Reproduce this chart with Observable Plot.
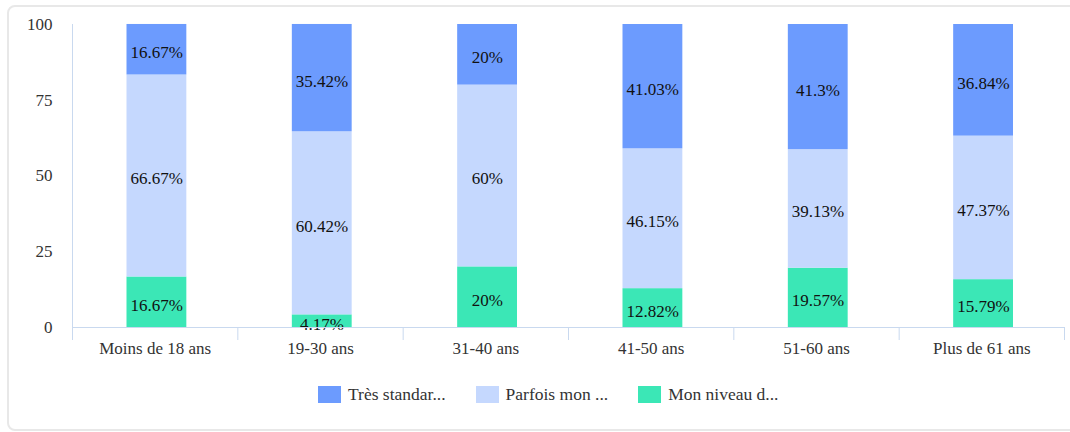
<!DOCTYPE html>
<html>
<head>
<meta charset="utf-8">
<script src="https://cdn.jsdelivr.net/npm/d3@7"></script>
<script src="https://cdn.jsdelivr.net/npm/@observablehq/plot@0.6"></script>
<style>
  html, body { margin: 0; padding: 0; background: #fff; width: 1070px; height: 432px; overflow: hidden; }
  #card { position: absolute; left: 7px; top: 5px; width: 1100px; height: 426px; border: 2px solid #e8e8e8; border-radius: 8px; box-sizing: border-box; }
  #chart { position: absolute; left: 0; top: 0; }
  #legend { position: absolute; left: 318px; top: 384px; display: flex; gap: 30px; font-family: "Liberation Serif", "Times New Roman", serif; font-size: 17.5px; color: #333; }
  .item { display: flex; align-items: center; gap: 7px; }
  .sw { width: 23px; height: 17px; display: inline-block; }
</style>
</head>
<body>
<div id="card"></div>
<div id="chart"></div>
<div id="legend"></div>
<script>
const categories = ["Moins de 18 ans", "19-30 ans", "31-40 ans", "41-50 ans", "51-60 ans", "Plus de 61 ans"];
// series, bottom to top of the stack
const series = ["Mon niveau d...", "Parfois mon ...", "Très standar..."];
const monNiveau = [16.67, 4.17, 20, 12.82, 19.57, 15.79];
const parfois = [66.67, 60.42, 60, 46.15, 39.13, 47.37];
const tresStandard = [16.67, 35.42, 20, 41.03, 41.3, 36.84];
const yTicks = [0, 25, 50, 75, 100];
const colors = ["#3be7b6", "#c5d8fe", "#6c9bfe"];
const legendOrder = ["Très standar...", "Parfois mon ...", "Mon niveau d..."];

const seriesValues = [monNiveau, parfois, tresStandard];
const data = categories.flatMap((c, i) =>
  seriesValues.map((vals, s) => ({cat: c, i, series: series[s], value: vals[i]}))
);

const axisColor = "#c9d9ef";

const chart = Plot.plot({
  width: 1070,
  height: 360,
  marginLeft: 72,
  marginRight: 6,
  marginTop: 24,
  marginBottom: 33,
  x: {domain: [0, categories.length], label: null},
  y: {domain: [0, 100], label: null},
  color: {domain: series, range: colors},
  style: {fontFamily: "'Liberation Serif', 'Times New Roman', serif", fontSize: "17px", color: "#333", background: "transparent"},
  marks: [
    Plot.rectY(data, Plot.stackY({x1: d => d.i, x2: d => d.i + 1, y: "value", fill: "series", insetLeft: 54.5, insetRight: 51})),
    Plot.text(data, Plot.stackY({x: d => d.i + 0.5, y: "value", text: d => d.value + "%", dx: 1.5, dy: 3, fontSize: 17, fill: "#111"})),
    Plot.ruleY([0], {stroke: axisColor}),
    Plot.ruleX([0], {stroke: axisColor}),
    Plot.axisX(d3.range(categories.length + 1), {tickSize: 13, tickFormat: () => "", stroke: axisColor, strokeOpacity: 1, label: null}),
    Plot.axisX(categories.map((c, i) => i + 0.5), {tickSize: 0, tickPadding: 14, tickFormat: d => categories[Math.floor(d)], fontSize: 17, fill: "#333", label: null}),
    Plot.axisY(yTicks, {tickSize: 0, tickPadding: 20, fontSize: 17, fill: "#333", label: null})
  ]
});
document.getElementById("chart").appendChild(chart);

const legend = document.getElementById("legend");
legendOrder.forEach(name => {
  const it = document.createElement("div");
  it.className = "item";
  const sw = document.createElement("span");
  sw.className = "sw";
  sw.style.background = colors[series.indexOf(name)];
  const t = document.createElement("span");
  t.textContent = name;
  it.appendChild(sw);
  it.appendChild(t);
  legend.appendChild(it);
});
</script>
</body>
</html>
